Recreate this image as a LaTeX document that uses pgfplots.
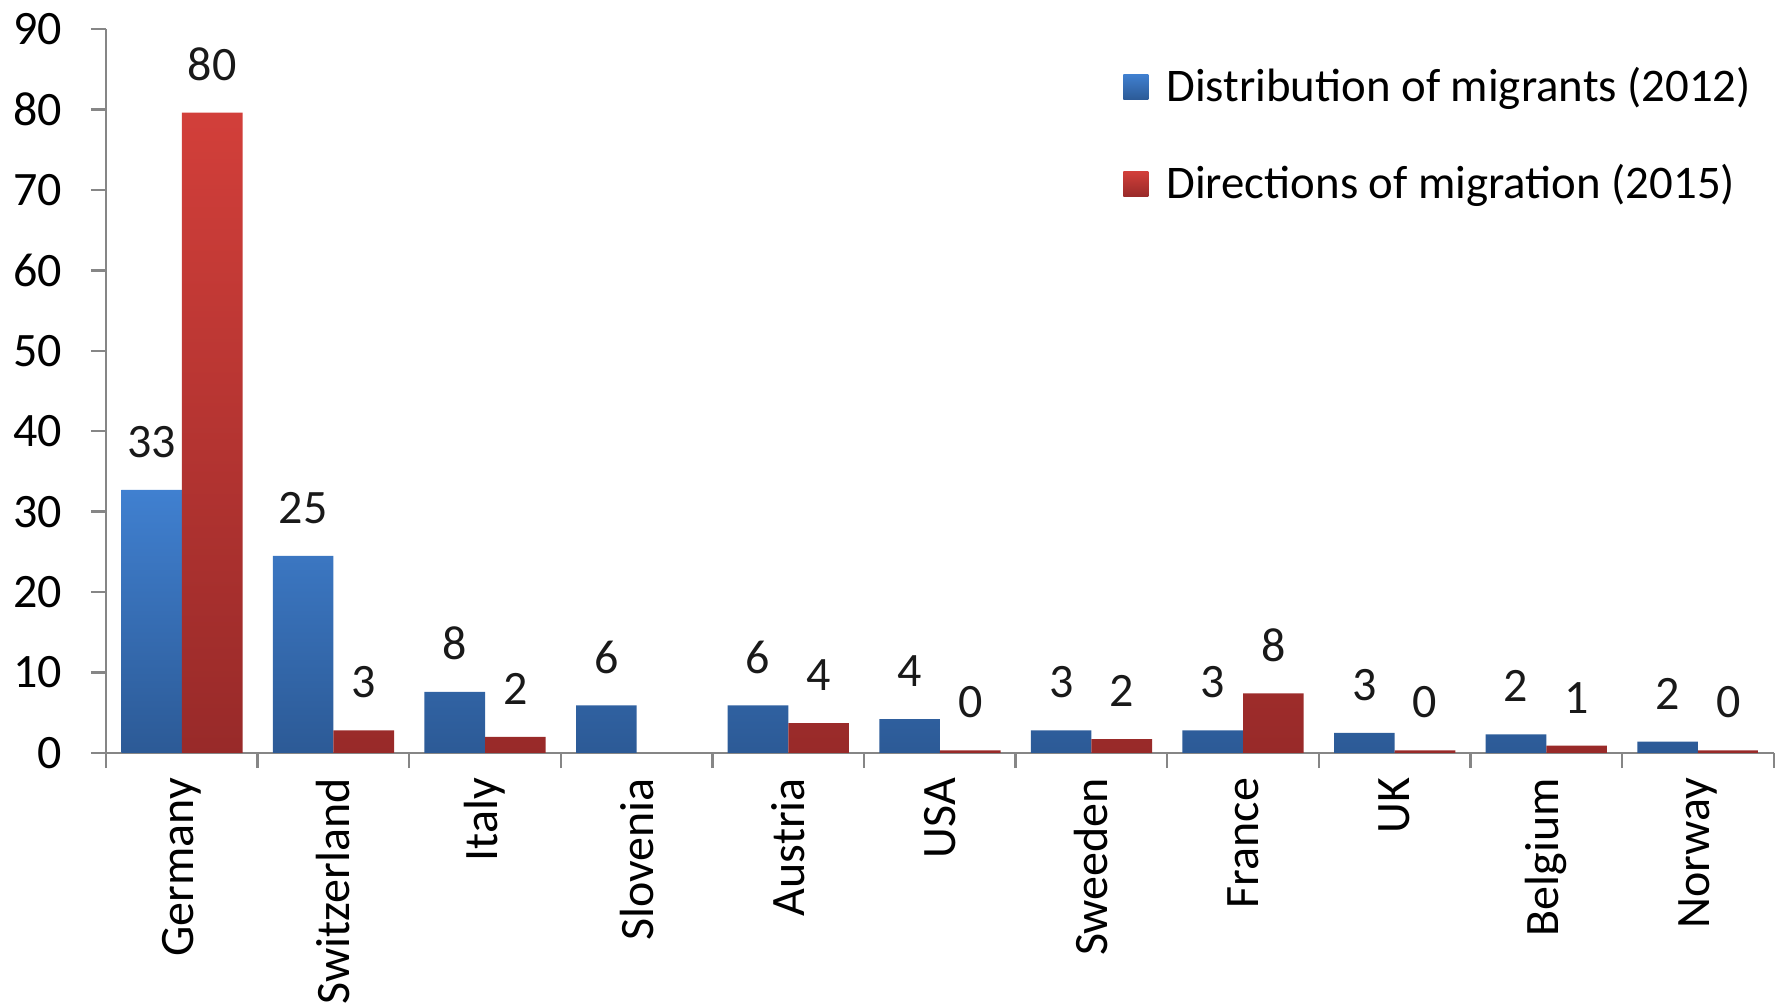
\documentclass[border=0pt]{standalone}
\usepackage{pgfplots}
\pgfplotsset{compat=1.18}
\usepackage{fontspec}
\setmainfont{Carlito}
\definecolor{bluetop}{RGB}{64,128,208}
\definecolor{bluebot}{RGB}{44,90,150}
\definecolor{redtop}{RGB}{210,63,58}
\definecolor{redbot}{RGB}{152,42,41}
\definecolor{axisgray}{RGB}{134,134,134}
\begin{document}
\begin{tikzpicture}
\begin{axis}[
  scale only axis,
  width=417pt, height=181pt,
  xmin=-0.5, xmax=10.5, ymin=0, ymax=90,
  ybar=0pt, bar width=0.4,
  axis x line*=bottom, axis y line*=left,
  axis line style={axisgray, line width=0.6pt},
  tick style={axisgray, line width=0.6pt},
  tick align=outside,
  ytick={0,10,...,90},
  major tick length=3.8pt,
  xtick={-0.5,0.5,...,10.5},
  xticklabels={},
  extra x ticks={0,...,10},
  extra x tick labels={Germany,Switzerland,Italy,Slovenia,Austria,USA,Sweeden,France,UK,Belgium,Norway},
  extra x tick style={/pgfplots/major tick length=0pt,
    xticklabel style={rotate=90, anchor=east, font=\fontsize{12}{14}\selectfont, inner sep=0pt}},
  xticklabel shift=6.1pt,
  yticklabel style={font=\fontsize{12}{14}\selectfont, xshift=-3.7pt},
  /pgf/number format/assume math mode=true,
  point meta=explicit symbolic,
  nodes near coords,
  every node near coord/.append style={anchor=center, yshift=12pt, font=\fontsize{12}{14}\selectfont, text=black!90},
  legend style={at={(rel axis cs:0.9988,0.971)}, anchor=north east, draw=none, fill=none,
    font=\fontsize{11.7}{14}\selectfont, row sep=10.2pt, cells={anchor=west},
    /tikz/every odd column/.append style={column sep=2.5pt}},
  legend image code/.code={\path[#1, draw=none] (0pt,-3.2pt) rectangle (6.3pt,3.2pt);},
]
\addplot[draw=none, top color=bluetop, bottom color=bluebot] coordinates {
 (0,32.7)[33] (1,24.5)[25] (2,7.6)[8] (3,5.9)[6] (4,5.9)[6] (5,4.2)[4]
 (6,2.8)[3] (7,2.8)[3] (8,2.5)[3] (9,2.3)[2] (10,1.4)[2]};
\addplot[draw=none, top color=redtop, bottom color=redbot] coordinates {
 (0,79.6)[80] (1,2.8)[3] (2,2.0)[2] (4,3.7)[4] (5,0.3)[0]
 (6,1.7)[2] (7,7.4)[8] (8,0.3)[0] (9,0.9)[1] (10,0.3)[0]};
\legend{Distribution of migrants (2012), Directions of migration (2015)}
\end{axis}
\end{tikzpicture}
\end{document}
